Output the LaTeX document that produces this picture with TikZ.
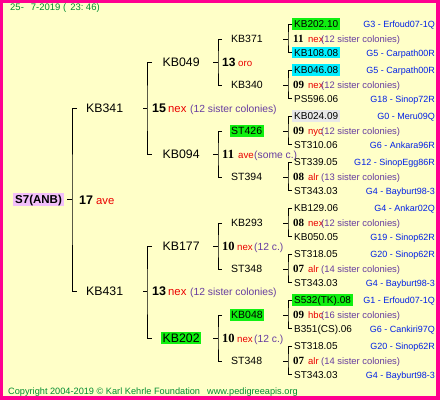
\documentclass[tikz,border=0pt]{standalone}
\usepackage{fontspec}
\setmainfont{Liberation Sans}
\newfontfamily\serifnum{Liberation Serif}
\usetikzlibrary{calc}
\definecolor{bgcream}{RGB}{255,255,200}
\definecolor{framec}{RGB}{255,0,144}
\definecolor{hdrgreen}{RGB}{0,140,48}
\definecolor{boxgreen}{RGB}{16,240,16}
\definecolor{boxcyan}{RGB}{0,238,255}
\definecolor{boxgrey}{RGB}{232,232,232}
\definecolor{boxpink}{RGB}{242,192,250}
\definecolor{sisc}{RGB}{102,60,160}
\definecolor{gblue}{RGB}{0,32,230}
\definecolor{rred}{RGB}{235,0,0}
\begin{document}
\begin{tikzpicture}[x=1pt,y=-1pt,
  every node/.style={inner sep=0pt,anchor=west,text depth=0pt},
  tree/.style={draw=black,line width=1pt},
  lblA/.style={font=\fontsize{12.3}{14}\selectfont,text height=8.8pt,inner xsep=1.5pt,inner ysep=2pt},
  lblB/.style={font=\fontsize{10.5}{12}\selectfont,text height=7.6pt,inner xsep=1.5pt,inner ysep=2pt},
  lblC/.style={font=\fontsize{10}{12}\selectfont,text height=7.2pt,inner xsep=2pt,inner ysep=2pt},
  numA/.style={font=\bfseries\fontsize{12.5}{14}\selectfont,text height=9pt},
  numB/.style={font=\serifnum\bfseries\fontsize{12.5}{14}\selectfont,text height=9pt},
  numC/.style={font=\serifnum\bfseries\fontsize{11}{13}\selectfont,text height=7.4pt},
  redA/.style={text=rred,font=\fontsize{11.3}{13}\selectfont,text height=9pt},
  redB/.style={text=rred,font=\fontsize{9.7}{12}\selectfont,text height=9pt},
  redC/.style={text=rred,font=\fontsize{9.5}{11}\selectfont,text height=7.4pt},
  sisB/.style={text=sisc,font=\fontsize{10.3}{12}\selectfont,text height=9pt},
  sisC/.style={text=sisc,font=\fontsize{9.4}{11}\selectfont,text height=7.4pt},
  gref/.style={text=gblue,anchor=east,font=\fontsize{9}{11}\selectfont,text height=7.2pt},
  gbox/.style={fill=boxgreen},
  cbox/.style={fill=boxcyan},
  greybox/.style={fill=boxgrey},
  foot/.style={text=hdrgreen,font=\fontsize{9.2}{11}\selectfont,text height=6.6pt}
]
\useasboundingbox (0,0) rectangle (440,400);
\fill[framec] (0,0) rectangle (440,400);
\fill[bgcream] (3,3) rectangle (436,396);

% header and footer
\node[text=hdrgreen,font=\fontsize{9.5}{11}\selectfont,text height=6.8pt] (hdr) at (10,7.5) {25-\hspace{7pt}7-2019 (\hspace{4pt}23:\hspace{2.5pt}46)};
\node[foot] (copy) at (8,391.5) {Copyright 2004-2019 \textcopyright\ Karl Kehrle Foundation};
\node[foot] (www) at (207,391.5) {www.pedigreeapis.org};

% generation 0 and 1
\node[lblA,fill=boxpink,font=\bfseries\fontsize{11.5}{13}\selectfont,text height=8.3pt,inner xsep=2pt,inner ysep=2.3pt] (S7) at (13,199.5) {S7(ANB)};
\node[lblA] (KB341) at (84.5,108) {KB341};
\node[lblA] (KB431) at (84.5,291) {KB431};
\coordinate (d0) at (67,199.5);
\coordinate (j0) at (72,199.5);
\draw[tree] (d0) -- (j0);
\draw[tree] ($(KB341.west)+(-7.5,0)$) -| (j0) |- ($(KB431.west)+(-7.5,0)$);
\node[numA] (n17) at (79,199.5) {17};
\node[redA] (r17) at (96,199.5) {ave};

% generation 2
\node[lblA] (KB049) at (161,62) {KB049};
\node[lblA] (KB094) at (161,154) {KB094};
\node[lblA] (KB177) at (161,246) {KB177};
\node[lblA,gbox] (KB202) at (161,338) {KB202};
\coordinate (d1a) at (143,108);
\coordinate (j1a) at (147,108);
\coordinate (d1b) at (143,291);
\coordinate (j1b) at (147,291);
\draw[tree] (d1a) -- (j1a);
\draw[tree] ($(KB049.west)+(-9,0)$) -| (j1a) |- ($(KB094.west)+(-9,0)$);
\draw[tree] (d1b) -- (j1b);
\draw[tree] ($(KB177.west)+(-9,0)$) -| (j1b) |- ($(KB202.west)+(-9,0)$);
\node[numA] (n15) at (152,108) {15};
\node[redA] (r15) at (168,108) {nex};
\node[sisB] (s15) at (190,108) {(12 sister colonies)};
\node[numA] (n13) at (152,291) {13};
\node[redA] (r13) at (168,291) {nex};
\node[sisB] (s13) at (190,291) {(12 sister colonies)};

% generation 3
\node[lblB] (KB371) at (229.5,39) {KB371};
\node[lblB] (KB340) at (229.5,85) {KB340};
\node[lblB,gbox] (ST426) at (229.5,131) {ST426};
\node[lblB] (ST394) at (229.5,177) {ST394};
\node[lblB] (KB293) at (229.5,223) {KB293};
\node[lblB] (ST348a) at (229.5,269) {ST348};
\node[lblB,gbox] (KB048) at (229.5,315) {KB048};
\node[lblB] (ST348b) at (229.5,361) {ST348};
\coordinate (d2a) at (213,62);  \coordinate (j2a) at (218,62);
\coordinate (d2b) at (213,154); \coordinate (j2b) at (218,154);
\coordinate (d2c) at (213,246); \coordinate (j2c) at (218,246);
\coordinate (d2d) at (213,338); \coordinate (j2d) at (218,338);
\draw[tree] (d2a) -- (j2a);
\draw[tree] ($(KB371.west)+(-7.5,0)$) -| (j2a) |- ($(KB340.west)+(-7.5,0)$);
\draw[tree] (d2b) -- (j2b);
\draw[tree] ($(ST426.west)+(-7.5,0)$) -| (j2b) |- ($(ST394.west)+(-7.5,0)$);
\draw[tree] (d2c) -- (j2c);
\draw[tree] ($(KB293.west)+(-7.5,0)$) -| (j2c) |- ($(ST348a.west)+(-7.5,0)$);
\draw[tree] (d2d) -- (j2d);
\draw[tree] ($(KB048.west)+(-7.5,0)$) -| (j2d) |- ($(ST348b.west)+(-7.5,0)$);
\node[numA,font=\bfseries\fontsize{12}{14}\selectfont] (n13b) at (222,62) {13};
\node[redB] (r13b) at (238,62) {oro};
\node[numB] (n11b) at (222,154) {11};
\node[redB] (r11b) at (238,154) {ave};
\node[sisB] (s11b) at (254,154) {(some c.)};
\node[numB] (n10a) at (222,246) {10};
\node[redB] (r10a) at (237,246) {nex};
\node[sisB] (s10a) at (254,246) {(12 c.)};
\node[numB] (n10b) at (222,338) {10};
\node[redB] (r10b) at (237,338) {nex};
\node[sisB] (s10b) at (254,338) {(12 c.)};

% generation 4 : block 1 (KB371)
\node[lblC,gbox] (c1t) at (292,24) {KB202.10};
\node[gref] (g1t) at (435,24) {G3 - Erfoud07-1Q};
\node[lblC,cbox] (c1b) at (292,52.5) {KB108.08};
\node[gref] (g1b) at (435,52.5) {G5 - Carpath00R};
\node[numC] (n1) at (293,39) {11};
\node[redC] (r1) at (308,39) {nex};
\node[sisC] (s1) at (321,39) {(12 sister colonies)};
% block 2 (KB340)
\node[lblC,cbox] (c2t) at (292,70) {KB046.08};
\node[gref] (g2t) at (435,70) {G5 - Carpath00R};
\node[lblC] (c2b) at (292,98.5) {PS596.06};
\node[gref] (g2b) at (435,98.5) {G18 - Sinop72R};
\node[numC] (n2) at (293,85) {09};
\node[redC] (r2) at (308,85) {nex};
\node[sisC] (s2) at (321,85) {(12 sister colonies)};
% block 3 (ST426)
\node[lblC,greybox] (c3t) at (292,116) {KB024.09};
\node[gref] (g3t) at (435,116) {G0 - Meru09Q};
\node[lblC] (c3b) at (292,144.5) {ST310.06};
\node[gref] (g3b) at (435,144.5) {G6 - Ankara96R};
\node[numC] (n3) at (293,131) {09};
\node[redC] (r3) at (308,131) {nyc};
\node[sisC] (s3) at (321,131) {(12 sister colonies)};
% block 4 (ST394)
\node[lblC] (c4t) at (292,162) {ST339.05};
\node[gref] (g4t) at (435,162) {G12 - SinopEgg86R};
\node[lblC] (c4b) at (292,190.5) {ST343.03};
\node[gref] (g4b) at (435,190.5) {G4 - Bayburt98-3};
\node[numC] (n4) at (293,177) {08};
\node[redC] (r4) at (308,177) {alr};
\node[sisC] (s4) at (321,177) {(13 sister colonies)};
% block 5 (KB293)
\node[lblC] (c5t) at (292,208) {KB129.06};
\node[gref] (g5t) at (435,208) {G4 - Ankar02Q};
\node[lblC] (c5b) at (292,236.5) {KB050.05};
\node[gref] (g5b) at (435,236.5) {G19 - Sinop62R};
\node[numC] (n5) at (293,223) {08};
\node[redC] (r5) at (308,223) {nex};
\node[sisC] (s5) at (321,223) {(12 sister colonies)};
% block 6 (ST348a)
\node[lblC] (c6t) at (292,254) {ST318.05};
\node[gref] (g6t) at (435,254) {G20 - Sinop62R};
\node[lblC] (c6b) at (292,282.5) {ST343.03};
\node[gref] (g6b) at (435,282.5) {G4 - Bayburt98-3};
\node[numC] (n6) at (293,269) {07};
\node[redC] (r6) at (308,269) {alr};
\node[sisC] (s6) at (321,269) {(14 sister colonies)};
% block 7 (KB048)
\node[lblC,gbox] (c7t) at (292,300) {S532(TK).08};
\node[gref] (g7t) at (435,300) {G1 - Erfoud07-1Q};
\node[lblC] (c7b) at (292,328.5) {B351(CS).06};
\node[gref] (g7b) at (435,328.5) {G6 - Cankiri97Q};
\node[numC] (n7) at (293,315) {09};
\node[redC] (r7) at (308,315) {hbc};
\node[sisC] (s7) at (321,315) {(16 sister colonies)};
% block 8 (ST348b)
\node[lblC] (c8t) at (292,346) {ST318.05};
\node[gref] (g8t) at (435,346) {G20 - Sinop62R};
\node[lblC] (c8b) at (292,374.5) {ST343.03};
\node[gref] (g8b) at (435,374.5) {G4 - Bayburt98-3};
\node[numC] (n8) at (293,361) {07};
\node[redC] (r8) at (308,361) {alr};
\node[sisC] (s8) at (321,361) {(14 sister colonies)};

% brackets of generation 4
\foreach \k/\yy in {1/39,2/85,3/131,4/177,5/223,6/269,7/315,8/361}{
  \coordinate (d3\k) at (283,\yy);
  \coordinate (j3\k) at (288,\yy);
  \draw[tree] (d3\k) -- (j3\k);
  \draw[tree] (c\k t.west) -| (j3\k) |- (c\k b.west);
}
\end{tikzpicture}
\end{document}
